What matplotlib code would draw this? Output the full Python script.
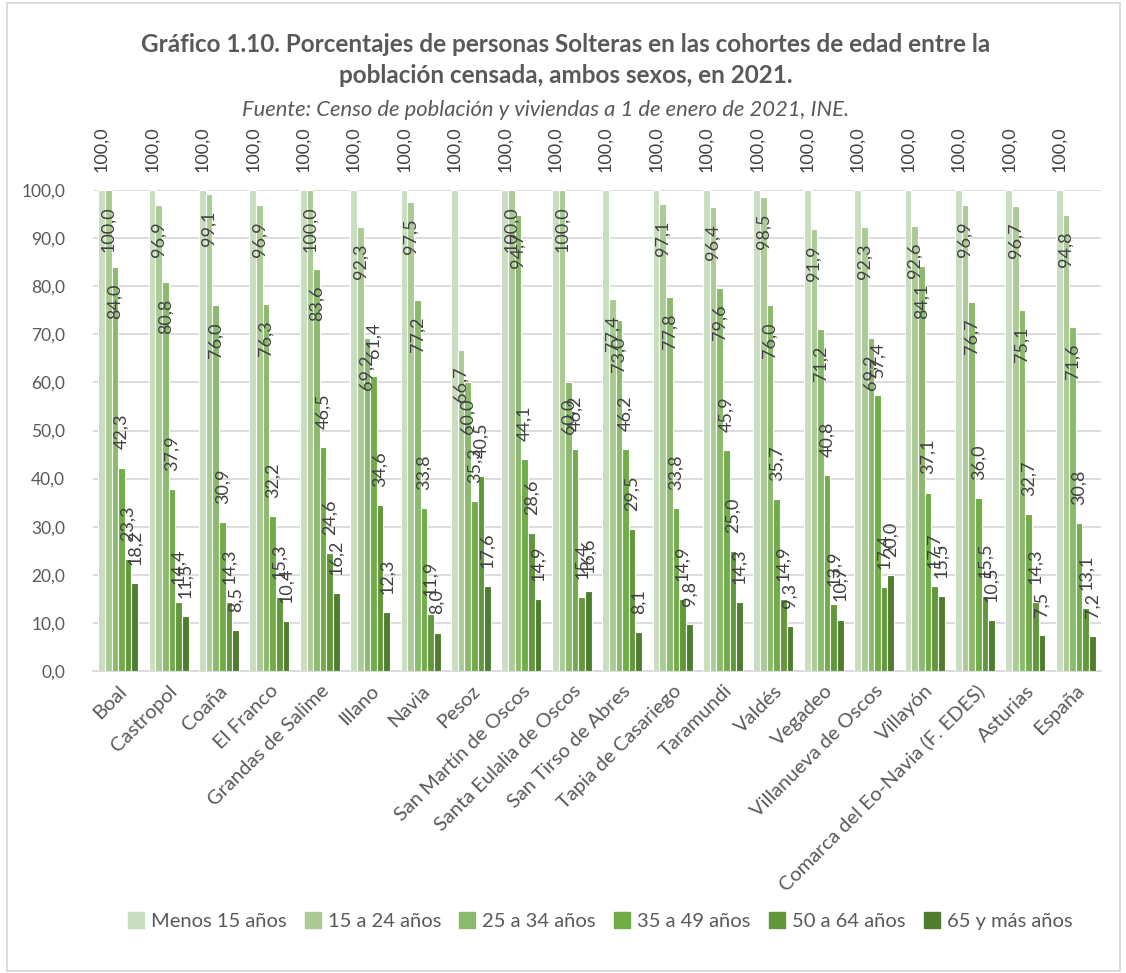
import matplotlib
matplotlib.use("Agg")
import matplotlib.pyplot as plt
import numpy as np
from matplotlib.patches import Rectangle

plt.rcParams['font.family'] = ['Lato', 'DejaVu Sans']

municipios = [
    "Boal", "Castropol", "Coaña", "El Franco", "Grandas de Salime", "Illano",
    "Navia", "Pesoz", "San Martín de Oscos", "Santa Eulalia de Oscos",
    "San Tirso de Abres", "Tapia de Casariego", "Taramundi", "Valdés",
    "Vegadeo", "Villanueva de Oscos", "Villayón",
    "Comarca del Eo-Navia (F. EDES)", "Asturias", "España",
]

cohortes = ["Menos 15 años", "15 a 24 años", "25 a 34 años",
            "35 a 49 años", "50 a 64 años", "65 y más años"]

menos_15 = [100.0] * 20
de_15_24 = [100.0, 96.9, 99.1, 96.9, 100.0, 92.3, 97.5, 66.7, 100.0, 100.0,
            77.4, 97.1, 96.4, 98.5, 91.9, 92.3, 92.6, 96.9, 96.7, 94.8]
de_25_34 = [84.0, 80.8, 76.0, 76.3, 83.6, 69.2, 77.2, 60.0, 94.7, 60.0,
            73.0, 77.8, 79.6, 76.0, 71.2, 69.2, 84.1, 76.7, 75.1, 71.6]
de_35_49 = [42.3, 37.9, 30.9, 32.2, 46.5, 61.4, 33.8, 35.3, 44.1, 46.2,
            46.2, 33.8, 45.9, 35.7, 40.8, 57.4, 37.1, 36.0, 32.7, 30.8]
de_50_64 = [23.3, 14.4, 14.3, 15.3, 24.6, 34.6, 11.9, 40.5, 28.6, 15.4,
            29.5, 14.9, 25.0, 14.9, 13.9, 17.4, 17.7, 15.5, 14.3, 13.1]
de_65_mas = [18.2, 11.5, 8.5, 10.4, 16.2, 12.3, 8.0, 17.6, 14.9, 16.6,
             8.1, 9.8, 14.3, 9.3, 10.7, 20.0, 15.5, 10.5, 7.5, 7.2]

series = [menos_15, de_15_24, de_25_34, de_35_49, de_50_64, de_65_mas]
colores = ["#c9dec0", "#abcb95", "#8aba6b", "#70ad47", "#60983a", "#4f7d30"]
# label placement per series: outside the bar end or just inside it
dentro = [False, True, True, False, False, False]

texto = "#404040"
gris = "#595959"

fig = plt.figure(figsize=(11.26, 9.73), dpi=100)
ax = fig.add_axes([93 / 1126, 1 - 671 / 973, 1008 / 1126, 481 / 973])

x = np.arange(len(municipios))
n = len(series)
ancho = 0.79 / n

for i, (vals, col) in enumerate(zip(series, colores)):
    pos = x - 0.395 + ancho * (i + 0.5)
    ax.bar(pos, vals, width=ancho, color=col, edgecolor="white",
           linewidth=0.8, zorder=3)
    for px, v in zip(pos, vals):
        etiqueta = f"{v:.1f}".replace(".", ",")
        if dentro[i]:
            ax.annotate(etiqueta, xy=(px, v), xytext=(0, -12),
                        textcoords="offset points", rotation=90,
                        ha="center", va="top", fontsize=13, color=texto,
                        annotation_clip=False, zorder=5)
        else:
            ax.annotate(etiqueta, xy=(px, v), xytext=(0, 13),
                        textcoords="offset points", rotation=90,
                        ha="center", va="bottom", fontsize=13, color=texto,
                        annotation_clip=False, zorder=5)

ax.set_xlim(-0.5, len(municipios) - 0.5)
ax.set_ylim(0, 100)
ax.set_yticks(np.arange(0, 101, 10))
ax.set_yticklabels([f"{t:.1f}".replace(".", ",") for t in np.arange(0, 101, 10)],
                   fontsize=12.5, color=gris)
ax.set_xticks(x)
ax.set_xticklabels(municipios, rotation=45, ha="right",
                   rotation_mode="anchor", fontsize=14.5, color=gris)
ax.tick_params(axis="x", length=0, pad=8)
ax.tick_params(axis="y", length=0, pad=20)
ax.grid(axis="y", color="#d9d9d9", linewidth=1.3, zorder=0)
for s in ["top", "right", "left"]:
    ax.spines[s].set_visible(False)
ax.spines["bottom"].set_color("#d9d9d9")
ax.spines["bottom"].set_linewidth(1.3)

fig.text(566 / 1126, 1 - 45 / 973,
         "Gráfico 1.10. Porcentajes de personas Solteras en las cohortes de edad entre la",
         ha="center", va="center", fontsize=17.5, fontweight="bold", color=gris)
fig.text(566 / 1126, 1 - 75 / 973,
         "población censada, ambos sexos, en 2021.",
         ha="center", va="center", fontsize=17.5, fontweight="bold", color=gris)
fig.text(546 / 1126, 1 - 110 / 973,
         "Fuente: Censo de población y viviendas a 1 de enero de 2021, INE.",
         ha="center", va="center", fontsize=15.8, style="italic", color=gris)

handles = [Rectangle((0, 0), 1, 1, color=c) for c in colores]
fig.legend(handles, cohortes, loc="center", bbox_to_anchor=(600 / 1126, 1 - 921 / 973),
           ncol=6, frameon=False, fontsize=14.5, handlelength=0.8, handleheight=0.8,
           handletextpad=0.35, columnspacing=0.9, labelcolor=gris)

fig.patches.append(Rectangle((7 / 1126, 2 / 973), 1113 / 1126, 968 / 973,
                             transform=fig.transFigure, fill=False,
                             edgecolor="#d9d9d9", linewidth=1.3))

fig.savefig("out.png", dpi=100)
